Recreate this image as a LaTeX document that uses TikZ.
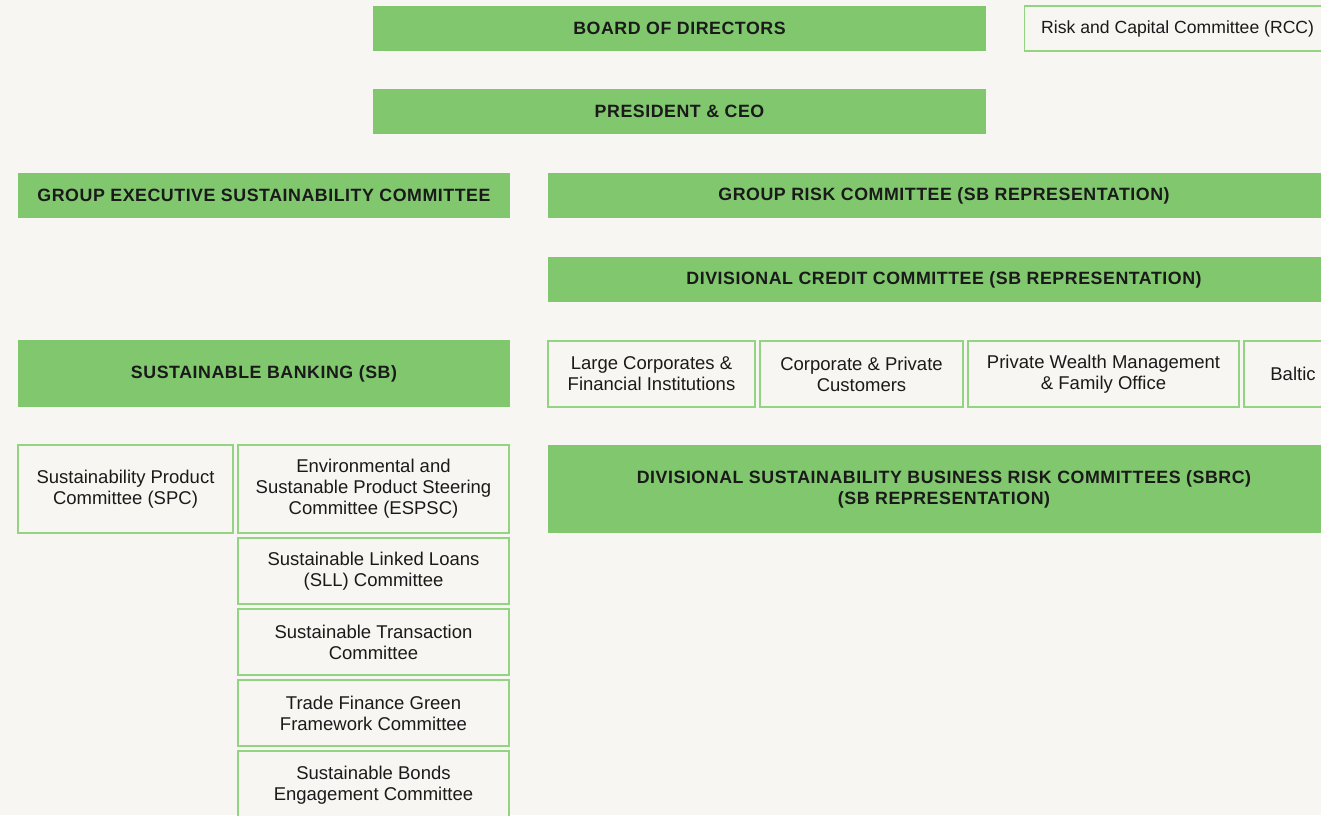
\documentclass[tikz,border=0pt]{standalone}
\usepackage{fontspec}
\setmainfont{Liberation Sans}
\newfontfamily\headfont[LetterSpace=3]{Liberation Sans}
\definecolor{bg}{HTML}{F7F6F2}
\definecolor{gfill}{HTML}{80C76E}
\definecolor{gline}{HTML}{93D483}
\definecolor{txt}{HTML}{1A1A1A}
\tikzset{
  hbox/.style={rectangle, fill=gfill, draw=none, inner sep=0pt, text=txt,
    font=\headfont\bfseries\fontsize{17.8}{21}\selectfont, align=center},
  obox/.style={rectangle, fill=bg, draw=gline, line width=1.2pt, inner sep=0pt, text=txt,
    font=\fontsize{18.5}{21}\selectfont, align=center}
}
\begin{document}
\begin{tikzpicture}[x=1pt,y=-1pt]
\fill[bg] (0,0) rectangle (1321,815);
\useasboundingbox (0,0) rectangle (1321,815);
\clip (0,0) rectangle (1321,815);
% top
\node[hbox, minimum width=613pt, minimum height=45pt] (bod) at (679.5,28.5) {BOARD OF DIRECTORS};
\node[obox, minimum width=320pt, minimum height=45pt, anchor=west] (rcc) at (1024,28.5) {};
\node[anchor=west, inner sep=0pt, text=txt, font=\fontsize{17.6}{21}\selectfont] (rcct) at (1041,29) {Risk and Capital Committee (RCC)};
\node[hbox, minimum width=613pt, minimum height=45pt] (ceo) at (679.5,111.5) {PRESIDENT \& CEO};
% left column
\node[hbox, minimum width=492pt, minimum height=45pt] (gesc) at (264,195.5) {GROUP EXECUTIVE SUSTAINABILITY COMMITTEE};
\node[hbox, minimum width=492pt, minimum height=67pt] (sb) at (264,373.5) {SUSTAINABLE BANKING (SB)};
\node[obox, minimum width=215pt, minimum height=88pt] (spc) at (125.5,489) {Sustainability Product\\Committee (SPC)};
\node[obox, minimum width=271pt, minimum height=88pt] (espsc) at (373.5,489) {Environmental and\\Sustanable Product Steering\\Committee (ESPSC)};
\node[obox, minimum width=271pt, minimum height=66pt] (sll) at (373.5,571) {Sustainable Linked Loans\\(SLL) Committee};
\node[obox, minimum width=271pt, minimum height=66pt] (stc) at (373.5,642) {Sustainable Transaction\\Committee};
\node[obox, minimum width=271pt, minimum height=66pt] (tfg) at (373.5,713) {Trade Finance Green\\Framework Committee};
\node[obox, minimum width=271pt, minimum height=68pt] (sbe) at (373.5,785) {Sustainable Bonds\\Engagement Committee};
% right column
\node[hbox, minimum width=792pt, minimum height=45pt] (grc) at (944,195.5) {GROUP RISK COMMITTEE (SB REPRESENTATION)};
\node[hbox, minimum width=792pt, minimum height=45pt] (dcc) at (944,279.5) {DIVISIONAL CREDIT COMMITTEE (SB REPRESENTATION)};
\node[obox, minimum width=207pt, minimum height=66pt] (lcfi) at (651.5,374) {Large Corporates \&\\Financial Institutions};
\node[obox, minimum width=203pt, minimum height=66pt] (cpc) at (861.5,374) {Corporate \& Private\\Customers};
\node[obox, minimum width=271pt, minimum height=66pt] (pwm) at (1103.5,374) {Private Wealth Management\\\& Family Office};
\node[obox, minimum width=98pt, minimum height=66pt] (baltic) at (1293,374) {Baltic};
\node[hbox, minimum width=792pt, minimum height=88pt] (sbrc) at (944,489) {DIVISIONAL SUSTAINABILITY BUSINESS RISK COMMITTEES (SBRC)\\(SB REPRESENTATION)};
\end{tikzpicture}
\end{document}
